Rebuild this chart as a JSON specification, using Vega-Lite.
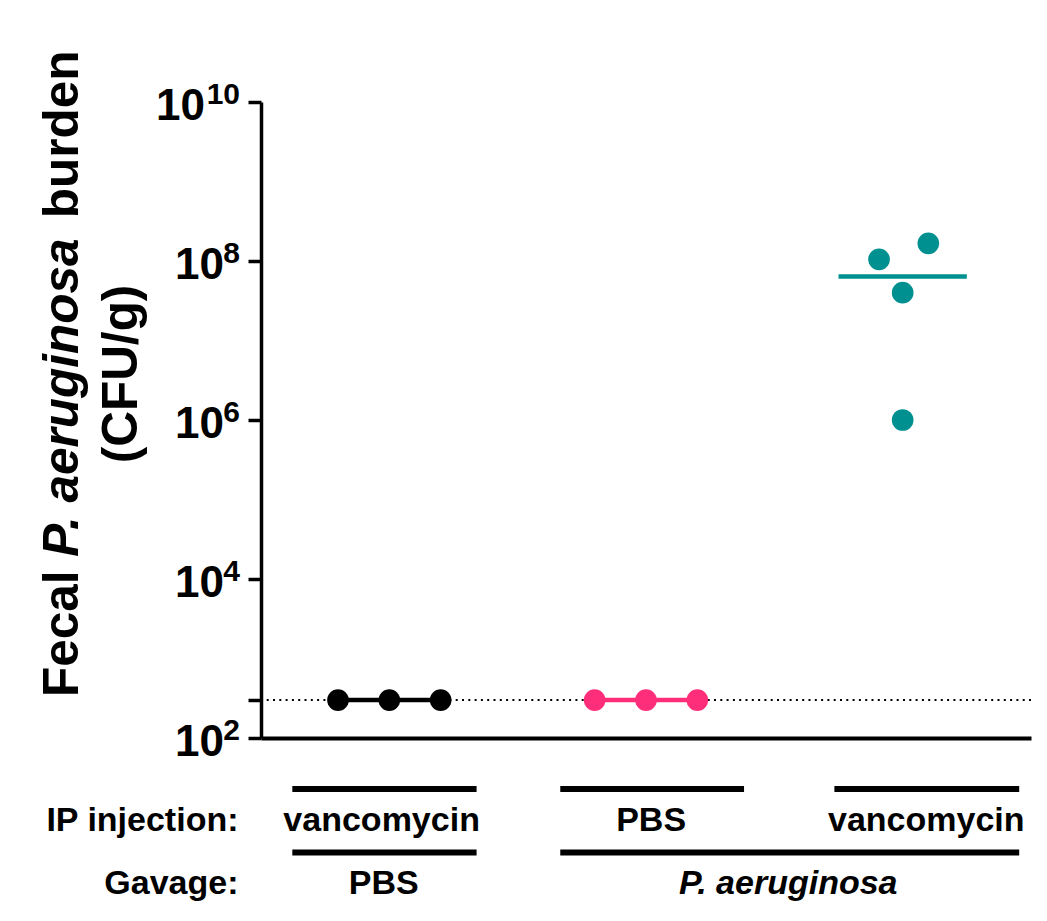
{
  "$schema": "https://vega.github.io/schema/vega-lite/v6.json",
  "width": 770,
  "height": 636,
  "autosize": {"type": "none"},
  "padding": {"left": 261, "top": 102, "right": 16, "bottom": 183},
  "background": "white",
  "config": {
    "view": {"stroke": null},
    "axis": {"grid": false, "labelFont": "Liberation Sans", "labelFontWeight": "bold", "labelColor": "black", "labelLimit": 500, "labelOverlap": false, "labelFlush": false},
    "text": {"font": "Liberation Sans", "fontWeight": "bold", "color": "black"}
  },
  "datasets": {
    "pts": [
      {"group": "vancomycin / PBS", "x": 1.5, "cfu": 300},
      {"group": "vancomycin / PBS", "x": 2.5, "cfu": 300},
      {"group": "vancomycin / PBS", "x": 3.5, "cfu": 300},
      {"group": "PBS / P. aeruginosa", "x": 6.5, "cfu": 300},
      {"group": "PBS / P. aeruginosa", "x": 7.5, "cfu": 300},
      {"group": "PBS / P. aeruginosa", "x": 8.5, "cfu": 300},
      {"group": "vancomycin / P. aeruginosa", "x": 12.04, "cfu": 105000000},
      {"group": "vancomycin / P. aeruginosa", "x": 13.0, "cfu": 167000000},
      {"group": "vancomycin / P. aeruginosa", "x": 12.5, "cfu": 40000000},
      {"group": "vancomycin / P. aeruginosa", "x": 12.5, "cfu": 1000000}
    ],
    "centers": [
      {"group": "vancomycin / PBS", "x": 1.5, "x2": 3.5, "cfu": 300},
      {"group": "PBS / P. aeruginosa", "x": 6.5, "x2": 8.5, "cfu": 300},
      {"group": "vancomycin / P. aeruginosa", "x": 11.25, "x2": 13.75, "cfu": 64000000}
    ],
    "lod": [{"cfu": 300}],
    "bars": [
      {"row": "IP injection:", "x": 0.61, "x2": 4.2},
      {"row": "IP injection:", "x": 5.83, "x2": 9.41},
      {"row": "IP injection:", "x": 11.17, "x2": 14.77},
      {"row": "Gavage:", "x": 0.61, "x2": 4.2},
      {"row": "Gavage:", "x": 5.83, "x2": 14.77}
    ],
    "labels": [
      {"row": "IP injection:", "x": 2.35, "text": "vancomycin", "kind": "treatment"},
      {"row": "IP injection:", "x": 7.6, "text": "PBS", "kind": "treatment"},
      {"row": "IP injection:", "x": 12.96, "text": "vancomycin", "kind": "treatment"},
      {"row": "Gavage:", "x": 2.39, "text": "PBS", "kind": "treatment"},
      {"row": "Gavage:", "x": 10.27, "text": "P. aeruginosa", "kind": "species"}
    ]
  },
  "layer": [
    {
      "layer": [
        {
          "data": {"name": "lod"},
          "mark": {"type": "rule", "color": "black", "strokeWidth": 2, "strokeDash": [2, 4.3]},
          "encoding": {
            "y": {
              "field": "cfu",
              "type": "quantitative",
              "scale": {"type": "log", "domain": [100, 10000000000], "nice": false},
              "axis": {
                "orient": "left",
                "title": null,
                "values": [100, 10000, 1000000, 100000000, 10000000000],
                "labelExpr": "datum.value == 100 ? '2' : datum.value == 10000 ? '4' : datum.value == 1000000 ? '6' : datum.value == 100000000 ? '8' : '10'",
                "domain": false,
                "ticks": false,
                "tickSize": 0,
                "labelFontSize": 30,
                "labelPadding": 21.5,
                "labelOffset": -8
              }
            }
          }
        },
        {
          "layer": [
            {
              "data": {"name": "centers"},
              "mark": {"type": "rule", "strokeWidth": 4.5},
              "encoding": {
                "x": {
                  "field": "x",
                  "type": "quantitative",
                  "scale": {"domain": [0, 15], "nice": false, "zero": false},
                  "axis": {"title": null, "labels": false, "ticks": false, "domain": true, "domainWidth": 4, "domainColor": "black"}
                },
                "x2": {"field": "x2"},
                "y": {
                  "field": "cfu",
                  "type": "quantitative",
                  "scale": {"type": "log", "domain": [100, 10000000000], "nice": false},
                  "axis": {
                    "orient": "left",
                    "title": null,
                    "values": [100, 300, 10000, 1000000, 100000000, 10000000000],
                    "labelExpr": "datum.value == 300 ? '' : '10'",
                    "domainWidth": 3.5,
                    "domainColor": "black",
                    "tickWidth": 3.5,
                    "tickSize": 13,
                    "tickColor": "black",
                    "labelFontSize": 44,
                    "labelPadding": {"condition": {"test": "datum.value == 10000000000", "value": 43.5}, "value": 24.5},
                    "labelOffset": 4
                  }
                },
                "color": {
                  "field": "group",
                  "type": "nominal",
                  "scale": {"domain": ["vancomycin / PBS", "PBS / P. aeruginosa", "vancomycin / P. aeruginosa"], "range": ["#000000", "#ff2e7a", "#009090"]},
                  "legend": null
                }
              }
            },
            {
              "data": {"name": "pts"},
              "mark": {"type": "point", "filled": true, "opacity": 1, "shape": "circle"},
              "encoding": {
                "x": {"field": "x", "type": "quantitative"},
                "y": {"field": "cfu", "type": "quantitative"},
                "color": {"field": "group", "type": "nominal", "legend": null},
                "size": {
                  "field": "group",
                  "type": "nominal",
                  "scale": {"domain": ["vancomycin / PBS", "PBS / P. aeruginosa", "vancomycin / P. aeruginosa"], "range": [470, 470, 585]},
                  "legend": null
                }
              }
            },
            {
              "data": {"values": [{"t": "Fecal"}]},
              "mark": {"type": "text", "angle": 270, "align": "left", "baseline": "alphabetic", "fontSize": 49.5, "fontWeight": "bold"},
              "encoding": {
                "x": {"datum": -3.565, "type": "quantitative"},
                "y": {"datum": 328, "type": "quantitative"},
                "text": {"field": "t"}
              }
            },
            {
              "data": {"values": [{"t": "P. aeruginosa"}]},
              "mark": {"type": "text", "angle": 270, "align": "left", "baseline": "alphabetic", "fontSize": 49.5, "fontWeight": "bold", "fontStyle": "italic"},
              "encoding": {
                "x": {"datum": -3.565, "type": "quantitative"},
                "y": {"datum": 19080, "type": "quantitative"},
                "text": {"field": "t"}
              }
            },
            {
              "data": {"values": [{"t": "burden"}]},
              "mark": {"type": "text", "angle": 270, "align": "left", "baseline": "alphabetic", "fontSize": 49.5, "fontWeight": "bold"},
              "encoding": {
                "x": {"datum": -3.565, "type": "quantitative"},
                "y": {"datum": 344000000, "type": "quantitative"},
                "text": {"field": "t"}
              }
            },
            {
              "data": {"values": [{"t": "(CFU/g)"}]},
              "mark": {"type": "text", "angle": 270, "align": "center", "baseline": "alphabetic", "fontSize": 49.5, "fontWeight": "bold"},
              "encoding": {
                "x": {"datum": -2.416, "type": "quantitative"},
                "y": {"datum": 3790000, "type": "quantitative"},
                "text": {"field": "t"}
              }
            }
          ]
        }
      ],
      "resolve": {"axis": {"y": "independent"}}
    },
    {
      "layer": [
        {
          "data": {"name": "bars"},
          "mark": {"type": "rule", "color": "black", "strokeWidth": 6},
          "encoding": {
            "x": {"field": "x", "type": "quantitative"},
            "x2": {"field": "x2"},
            "y": {
              "field": "row",
              "type": "nominal",
              "bandPosition": 0,
              "scale": {"type": "band", "domain": ["IP injection:", "Gavage:"], "range": [687, 814], "paddingInner": 0, "paddingOuter": 0},
              "axis": {
                "orient": "left",
                "title": null,
                "domain": false,
                "ticks": false,
                "labelPadding": 23,
                "labelFontSize": 34
              }
            }
          }
        },
        {
          "data": {"name": "labels"},
          "transform": [{"filter": "datum.kind == 'treatment'"}],
          "mark": {"type": "text", "fontSize": 34, "fontWeight": "bold", "baseline": "middle"},
          "encoding": {
            "x": {"field": "x", "type": "quantitative"},
            "y": {"field": "row", "type": "nominal"},
            "text": {"field": "text"}
          }
        },
        {
          "data": {"name": "labels"},
          "transform": [{"filter": "datum.kind == 'species'"}],
          "mark": {"type": "text", "fontSize": 34, "fontWeight": "bold", "fontStyle": "italic", "baseline": "middle"},
          "encoding": {
            "x": {"field": "x", "type": "quantitative"},
            "y": {"field": "row", "type": "nominal"},
            "text": {"field": "text"}
          }
        }
      ]
    }
  ],
  "resolve": {"scale": {"y": "independent"}, "axis": {"y": "independent"}}
}
